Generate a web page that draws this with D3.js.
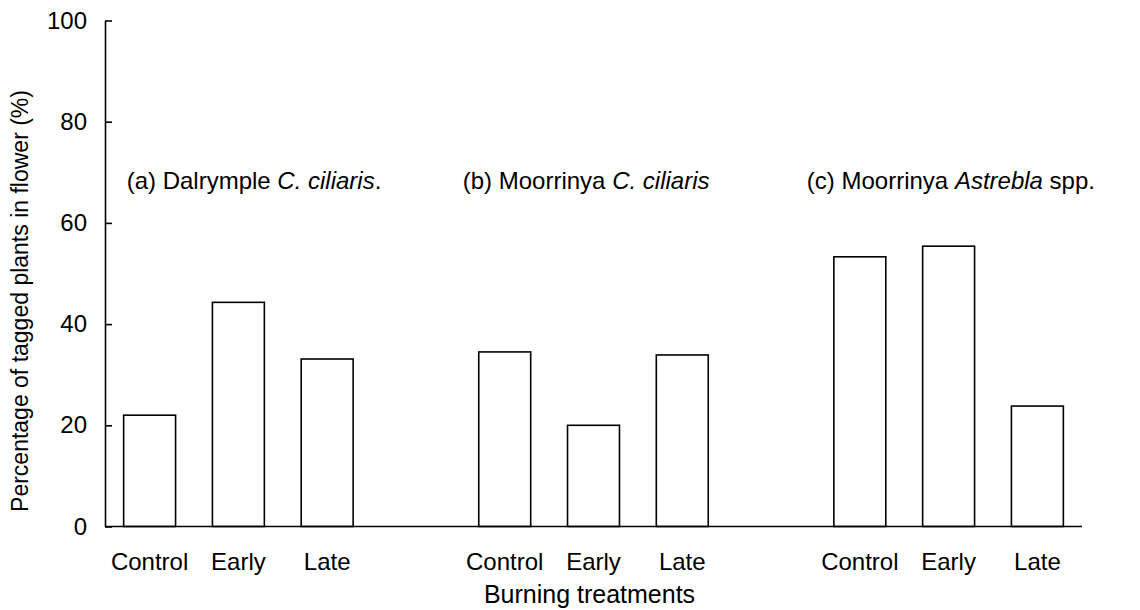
<!DOCTYPE html>
<html>
<head>
<meta charset="utf-8">
<script src="https://cdn.jsdelivr.net/npm/d3@7"></script>
<style>
  html, body { margin: 0; padding: 0; background: #fff; }
  svg { display: block; font-family: "Liberation Sans", Arial, sans-serif; }
</style>
</head>
<body>
<svg id="chart" width="1140" height="610"></svg>
<script>
// Burning treatments applied at each site
const treatments = ["Control", "Early", "Late"];

// Sites / species, one panel of bars each
const siteKeys = ["a", "b", "c"];

// Percentage of tagged plants in flower, per treatment
const dalrympleCiliaris = [22.0, 44.3, 33.1];
const moorrinyaCiliaris = [34.5, 20.0, 33.9];
const moorrinyaAstrebla = [53.3, 55.4, 23.8];

// Panel headings: plain and italic parts
const siteTitles = [
  [["(a) Dalrymple ", false], ["C. ciliaris", true], [".", false]],
  [["(b) Moorrinya ", false], ["C. ciliaris", true]],
  [["(c) Moorrinya ", false], ["Astrebla", true], [" spp.", false]]
];

const yTicks = [0, 20, 40, 60, 80, 100];

const yLabel = "Percentage of tagged plants in flower (%)";
const xLabel = "Burning treatments";

const siteValues = [dalrympleCiliaris, moorrinyaCiliaris, moorrinyaAstrebla];

// Flat list of bars, with an empty slot between sites
const bars = [];
const slots = [];
siteKeys.forEach((s, i) => {
  treatments.forEach((t, j) => {
    const key = s + "|" + t;
    slots.push(key);
    bars.push({ key, site: s, treatment: t, value: siteValues[i][j] });
  });
  if (i < siteKeys.length - 1) slots.push("gap" + i);
});

const svg = d3.select("#chart");
const plotLeft = 105, plotRight = 1082, plotTop = 20.5, plotBottom = 526.5;
const font = 24;

const x = d3.scaleBand()
  .domain(slots)
  .range([plotLeft, plotRight])
  .paddingInner(0.415)
  .paddingOuter(0.21);

const y = d3.scaleLinear()
  .domain([0, 100])
  .range([plotBottom, plotTop]);

// Bars
svg.append("g")
  .selectAll("rect")
  .data(bars)
  .join("rect")
  .attr("x", d => x(d.key))
  .attr("y", d => y(d.value))
  .attr("width", x.bandwidth())
  .attr("height", d => y(0) - y(d.value))
  .attr("fill", "#fff")
  .attr("stroke", "#000")
  .attr("stroke-width", 1.6);

// Y axis with inward ticks
const yAxis = svg.append("g")
  .attr("transform", `translate(${plotLeft},0)`)
  .call(d3.axisLeft(y).tickValues(yTicks).tickSizeInner(-7).tickSizeOuter(0).tickPadding(18));
yAxis.select(".domain").attr("stroke", "#000").attr("stroke-width", 1.6);
yAxis.selectAll(".tick line").attr("stroke", "#000").attr("stroke-width", 1.6);
yAxis.selectAll(".tick text")
  .attr("font-size", font)
  .attr("font-family", "Liberation Sans, Arial, sans-serif")
  .attr("fill", "#000")
  .attr("x", -18);

// X axis baseline with treatment labels
const xAxis = svg.append("g")
  .attr("transform", `translate(0,${plotBottom})`)
  .call(d3.axisBottom(x).tickSize(0).tickPadding(0).tickFormat(d => d.startsWith("gap") ? "" : d.split("|")[1]));
xAxis.select(".domain")
  .attr("d", `M${plotLeft},0H${plotRight}`)
  .attr("stroke", "#000")
  .attr("stroke-width", 1.6);
xAxis.selectAll(".tick text")
  .attr("font-size", font)
  .attr("font-family", "Liberation Sans, Arial, sans-serif")
  .attr("fill", "#000")
  .attr("dy", null)
  .attr("y", 43);

// Panel headings
const titleX = [x("a|Control") + 3, x("b|Control") - 16, x("c|Control") - 27];
siteTitles.forEach((parts, i) => {
  const t = svg.append("text")
    .attr("x", titleX[i])
    .attr("y", 189)
    .attr("font-size", font)
    .attr("fill", "#000");
  parts.forEach(([txt, it]) => {
    t.append("tspan").text(txt).attr("font-style", it ? "italic" : "normal");
  });
});

// Axis titles
svg.append("text")
  .attr("x", (x("b|Control") + x("b|Late") + x.bandwidth()) / 2 - 4)
  .attr("y", 603)
  .attr("text-anchor", "middle")
  .attr("font-size", 25)
  .attr("fill", "#000")
  .text(xLabel);

svg.append("text")
  .attr("transform", `translate(28,${301}) rotate(-90)`)
  .attr("text-anchor", "middle")
  .attr("font-size", 23)
  .attr("fill", "#000")
  .text(yLabel);
</script>
</body>
</html>
